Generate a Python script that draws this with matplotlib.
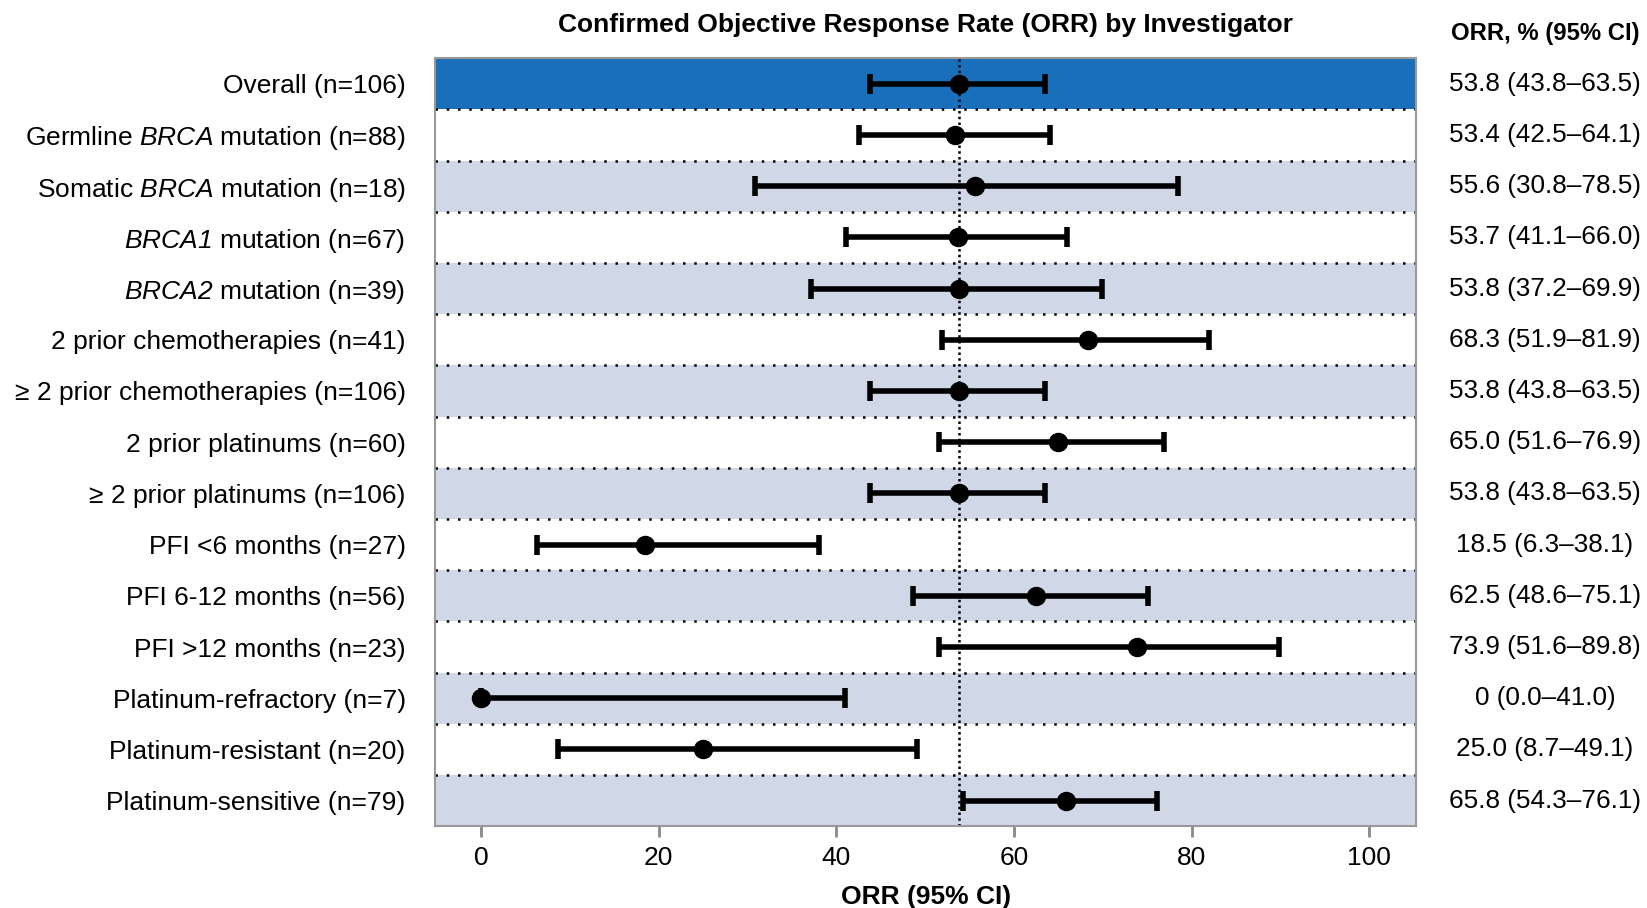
import numpy as np
import matplotlib
matplotlib.use("Agg")
import matplotlib.pyplot as plt
import matplotlib.transforms as mtransforms

plt.rcParams['font.family'] = ['Liberation Sans', 'DejaVu Sans']
plt.rcParams['mathtext.fontset'] = 'custom'
plt.rcParams['mathtext.rm'] = 'Liberation Sans'
plt.rcParams['mathtext.it'] = 'Liberation Sans:italic'
plt.rcParams['mathtext.sf'] = 'Liberation Sans:italic'

labels = [
    "Overall (n=106)",
    "Germline $\\mathsf{BRCA}$ mutation (n=88)",
    "Somatic $\\mathsf{BRCA}$ mutation (n=18)",
    "$\\mathsf{BRCA1}$ mutation (n=67)",
    "$\\mathsf{BRCA2}$ mutation (n=39)",
    "2 prior chemotherapies (n=41)",
    "\u2265 2 prior chemotherapies (n=106)",
    "2 prior platinums (n=60)",
    "\u2265 2 prior platinums (n=106)",
    "PFI <6 months (n=27)",
    "PFI 6-12 months (n=56)",
    "PFI >12 months (n=23)",
    "Platinum-refractory (n=7)",
    "Platinum-resistant (n=20)",
    "Platinum-sensitive (n=79)",
]
orr = [53.8, 53.4, 55.6, 53.7, 53.8, 68.3, 53.8, 65.0, 53.8, 18.5, 62.5, 73.9, 0.0, 25.0, 65.8]
lo = [43.8, 42.5, 30.8, 41.1, 37.2, 51.9, 43.8, 51.6, 43.8, 6.3, 48.6, 51.6, 0.0, 8.7, 54.3]
hi = [63.5, 64.1, 78.5, 66.0, 69.9, 81.9, 63.5, 76.9, 63.5, 38.1, 75.1, 89.8, 41.0, 49.1, 76.1]
ci_text = [
    "53.8 (43.8\u201363.5)", "53.4 (42.5\u201364.1)", "55.6 (30.8\u201378.5)",
    "53.7 (41.1\u201366.0)", "53.8 (37.2\u201369.9)", "68.3 (51.9\u201381.9)",
    "53.8 (43.8\u201363.5)", "65.0 (51.6\u201376.9)", "53.8 (43.8\u201363.5)",
    "18.5 (6.3\u201338.1)", "62.5 (48.6\u201375.1)", "73.9 (51.6\u201389.8)",
    "0 (0.0\u201341.0)", "25.0 (8.7\u201349.1)", "65.8 (54.3\u201376.1)",
]
ref_line = 53.8

orr = np.array(orr)
lo = np.array(lo)
hi = np.array(hi)
n = len(labels)
y = np.arange(n)

fig = plt.figure(figsize=(16.47, 9.08), dpi=100)
ax = fig.add_axes([0.264, 0.090, 0.596, 0.846])

# alternating row bands, first row highlighted
for i in range(n):
    if i == 0:
        c = '#1a6fba'
    elif i % 2 == 0:
        c = '#d0d8e8'
    else:
        c = 'white'
    ax.axhspan(i - 0.5, i + 0.5, color=c, zorder=0, lw=0)
for i in range(n - 1):
    ax.axhline(i + 0.5, color='black', lw=1.8, ls=(0, (1, 3.5)), zorder=1)

ax.axvline(ref_line, color='black', lw=1.8, ls=(0, (1, 1.3)), zorder=2)

ax.errorbar(orr, y, xerr=[orr - lo, hi - orr], fmt='o', color='black',
            ms=13, elinewidth=4, capsize=7, capthick=4, zorder=3)

ax.set_ylim(n - 0.5, -0.5)
ax.set_xlim(-5.2, 105.3)
ax.set_yticks(y)
ax.set_yticklabels(labels, fontsize=19)
ax.tick_params(axis='y', length=0, pad=21)
ax.set_xticks([0, 20, 40, 60, 80, 100])
ax.tick_params(axis='x', labelsize=19, length=8, width=2, color='#888888', pad=6)
for s in ax.spines.values():
    s.set_color('#999999')
    s.set_linewidth(1.5)

ax.set_xlabel("ORR (95% CI)", fontsize=19, fontweight='bold', labelpad=11)
ax.set_title("Confirmed Objective Response Rate (ORR) by Investigator",
             fontsize=19, fontweight='bold', pad=19)

# right-hand column with the ORR values
trans = mtransforms.blended_transform_factory(fig.transFigure, ax.transData)
for i, t in enumerate(ci_text):
    ax.text(0.938, i, t, transform=trans, ha='center', va='center', fontsize=18.8)
ax.text(0.938, -0.98, "ORR, % (95% CI)", transform=trans, ha='center', va='center',
        fontsize=17.2, fontweight='bold')

fig.savefig("out.png", dpi=100)
